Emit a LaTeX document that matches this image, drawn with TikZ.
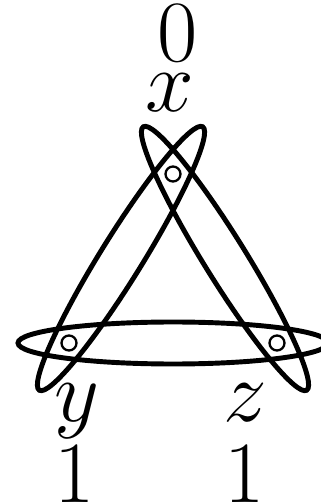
\documentclass[tikz,border=0pt]{standalone}
\usetikzlibrary{calc}
\begin{document}
\begin{tikzpicture}[x=0.1mm, y=0.1mm, line width=1.4pt,
  vert/.style={circle, draw, line width=0.65pt, minimum size=1.5mm, inner sep=0pt},
  lbl/.style={inner sep=0pt, font=\fontsize{23.5}{28}\selectfont}]
  \useasboundingbox (0,0) rectangle (321,504);
  \coordinate (px) at (173,330);
  \coordinate (py) at (69,161);
  \coordinate (pz) at (277,161);
  \coordinate (exy) at ($(px)!0.5!(py)$);
  \coordinate (eyz) at ($(py)!0.5!(pz)$);
  \coordinate (exz) at ($(px)!0.5!(pz)$);
  \draw[rotate around={58.2:(exy)}] (exy) ellipse [x radius=155, y radius=21];
  \draw[rotate around={-58.2:(exz)}] (exz) ellipse [x radius=155, y radius=21];
  \draw (eyz) ellipse [x radius=155, y radius=21];
  \node[vert] (x) at (px) {};
  \node[vert] (y) at (py) {};
  \node[vert] (z) at (pz) {};
  \node[lbl] (lx) at (170,411.5) {$x$};
  \node[lbl] (l0) at (178,470.5) {$0$};
  \node[lbl] (ly) at (77,93) {$y$};
  \node[lbl] (l1y) at (75,30) {$1$};
  \node[lbl] (lz) at (245,101) {$z$};
  \node[lbl] (l1z) at (244.5,30) {$1$};
\end{tikzpicture}
\end{document}
